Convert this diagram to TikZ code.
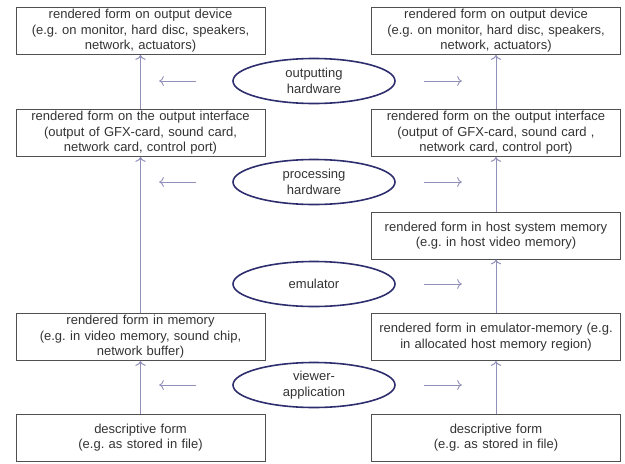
\documentclass[tikz,border=0pt]{standalone}
\usepackage{fontspec}
\setmainfont{Liberation Sans}
\frenchspacing
\usetikzlibrary{shapes.geometric,arrows.meta}
\definecolor{boxline}{HTML}{505050}
\definecolor{textgray}{HTML}{333333}
\definecolor{flow}{HTML}{9090BA}
\definecolor{navy}{HTML}{2E2E6E}
\tikzset{
  >={To[scale=1.3]},
  form/.style={draw=boxline, line width=0.9pt, minimum width=249pt, minimum height=47pt,
    text width=240pt, inner sep=0pt, align=center, text=textgray, font=\fontsize{13}{15.5}\selectfont},
  layer/.style={ellipse, draw=navy, line width=1.6pt, minimum width=162pt, minimum height=45pt,
    inner sep=0pt, align=center, text=textgray, font=\fontsize{13}{15.5}\selectfont},
  flowup/.style={->, draw=flow, line width=1pt},
  flowside/.style={->, draw=flow, line width=0.9pt}
}
\begin{document}
\begin{tikzpicture}[x=1pt,y=-1pt]
    \useasboundingbox (0,0) rectangle (625,464);
    \node [form] (devL) at (140.5,31) {rendered form on output device\\(e.g. on monitor, hard disc, speakers,\\network, actuators)};
    \node [form] (ifaceL) at (140.5,133) {rendered form on the output interface\\(output of GFX-card, sound card,\\network card, control port)};
    \node [form] (memL) at (140.5,337) {rendered form in memory\\(e.g. in video memory, sound chip,\\network buffer)};
    \node [form] (descL) at (140.5,437.5) {descriptive form\\(e.g. as stored in file)};
    \node [form] (devR) at (496,31) {rendered form on output device\\(e.g. on monitor, hard disc, speakers,\\network, actuators)};
    \node [form] (ifaceR) at (496,133) {rendered form on the output interface\\(output of GFX-card, sound card ,\\network card, control port)};
    \node [form] (hostR) at (496,235.5) {rendered form in host system memory\\(e.g. in host video memory)};
    \node [form] (emuR) at (496,337) {rendered form in emulator-memory (e.g.\\in allocated host memory region)};
    \node [form] (descR) at (496,437.5) {descriptive form\\(e.g. as stored in file)};
    \node [layer] (outhw) at (314,81) {outputting\\hardware};
    \node [layer] (prochw) at (314,182) {processing\\hardware};
    \node [layer] (emu) at (314,284) {emulator};
    \node [layer] (viewer) at (314,385) {viewer-\\application};
    \draw [flowup] (ifaceL) -- (devL);
    \draw [flowup] (memL) -- (ifaceL);
    \draw [flowup] (descL) -- (memL);
    \draw [flowup] (ifaceR) -- (devR);
    \draw [flowup] (hostR) -- (ifaceR);
    \draw [flowup] (emuR) -- (hostR);
    \draw [flowup] (descR) -- (emuR);
    \foreach \l in {outhw,prochw,viewer}
      \draw [flowside] ([xshift=-36pt]\l.west) -- ++(-37,0);
    \foreach \l in {outhw,prochw,emu,viewer}
      \draw [flowside] ([xshift=28pt]\l.east) -- ++(38,0);
\end{tikzpicture}
\end{document}
